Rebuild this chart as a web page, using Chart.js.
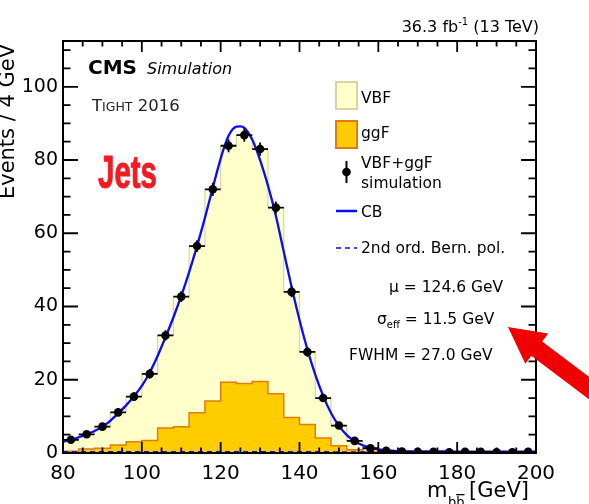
<!DOCTYPE html>
<html><head><meta charset="utf-8">
<script src="https://cdn.jsdelivr.net/npm/chart.js@4.4.1/dist/chart.umd.min.js"></script>
<style>html,body{margin:0;padding:0;background:#fff;overflow:hidden}</style>
</head><body>
<canvas id="c" width="589" height="504"></canvas>
<script>
// ---- data ----
const binEdges   = [80,84,88,92,96,100,104,108,112,116,120,124,128,132,136,140,144,148,152,156,160,164,168,172,176,180,184,188,192,196,200];
const binCenters = [82,86,90,94,98,102,106,110,114,118,122,126,130,134,138,142,146,150,154,158,162,166,170,174,178,182,186,190,194,198];
const totalEvents = [3.6,5.1,7.2,11.1,15.4,21.6,32.1,42.7,56.5,72.0,83.9,86.8,83.0,67.0,44.0,27.6,15.0,7.5,3.3,1.3,0.6,0.4,0.3,0.3,0.2,0.3,0.3,0.2,0.2,0.3];
const totalErrors = [0.6,0.7,0.8,1.0,1.1,1.3,1.4,1.5,1.6,1.8,1.8,1.8,1.8,1.7,1.5,1.3,1.1,0.8,0.6,0.4,0.3,0.3,0.3,0.3,0.3,0.3,0.3,0.3,0.3,0.3];
const ggfEvents = [0.5,1.1,1.3,2.2,3.1,3.4,6.8,7.2,11.0,14.2,19.3,19.0,19.5,16.2,9.7,7.8,4.1,2.0,0.9,0.4,0.1,0.1,0.1,0.1,0.1,0.1,0.1,0.1,0.1,0.1];
const cbMass   = [80,82,84,86,88,90,92,94,96,98,100,102,104,106,108,110,112,114,116,118,120,122,124,125,126,128,130,132,134,136,138,140,142,144,146,148,150,152,154,156,158,160,164,170,180,190,200];
const cbValues = [3.1,3.6,4.3,5.1,6.0,7.2,8.8,10.8,13.0,15.5,18.3,22.0,26.5,31.6,37.0,42.9,49.4,56.5,64.2,72.4,80.4,86.6,89.1,89.2,88.8,85.6,80.0,73.0,64.8,55.0,45.3,36.3,28.3,21.4,15.6,10.9,7.4,4.9,3.2,2.1,1.4,1.0,0.6,0.45,0.4,0.35,0.35];
const bernMass   = [80,140,200];
const bernValues = [0.35,0.3,0.25];
const xTickLabels = [80,100,120,140,160,180,200];
const yTickLabels = [0,20,40,60,80,100];

const FONT = "'DejaVu Sans', 'Liberation Sans', sans-serif";

function histPoints(vals){
  const pts = vals.map((v,i)=>({x:binEdges[i], y:v}));
  pts.push({x:binEdges[binEdges.length-1], y:vals[vals.length-1]});
  return pts;
}

const overlay = {
  id:'overlay',
  afterDatasetsDraw(chart){
    const {ctx, scales:{x,y}} = chart;
    ctx.save();
    ctx.strokeStyle='#000'; ctx.lineWidth=1.8;
    binCenters.forEach((c,i)=>{
      const v=totalEvents[i], e=totalErrors[i];
      const px=x.getPixelForValue(c), py=y.getPixelForValue(v);
      ctx.beginPath();
      ctx.moveTo(x.getPixelForValue(c-2),py); ctx.lineTo(x.getPixelForValue(c+2),py);
      ctx.moveTo(px,y.getPixelForValue(v-e)); ctx.lineTo(px,y.getPixelForValue(v+e));
      ctx.stroke();
    });
    ctx.restore();
  },
  afterDraw(chart){
    const {ctx, chartArea:a, scales:{x,y}} = chart;
    ctx.save();
    // frame
    ctx.strokeStyle='#000'; ctx.lineWidth=2;
    ctx.strokeRect(a.left,a.top,a.right-a.left,a.bottom-a.top);
    ctx.lineWidth=1.8;
    ctx.beginPath();
    for(let v=x.min; v<=x.max; v+=5){
      const px=x.getPixelForValue(v); const L=(v%20===0)?11:5.5;
      ctx.moveTo(px,a.bottom); ctx.lineTo(px,a.bottom-L);
      ctx.moveTo(px,a.top); ctx.lineTo(px,a.top+L);
    }
    for(let v=0; v<=y.max; v+=5){
      const py=y.getPixelForValue(v); const L=(v%20===0)?15:7.5;
      ctx.moveTo(a.left,py); ctx.lineTo(a.left+L,py);
      ctx.moveTo(a.right,py); ctx.lineTo(a.right-L,py);
    }
    ctx.stroke();

    ctx.fillStyle='#000';
    ctx.textBaseline='alphabetic';
    // Axis titles
    ctx.save();
    ctx.translate(13.5,121.5); ctx.rotate(-Math.PI/2);
    ctx.textAlign='center'; ctx.font='21px '+FONT;
    ctx.fillText('Events / 4 GeV',0,0);
    ctx.restore();
    ctx.textAlign='left';
    ctx.font='21px '+FONT;
    ctx.fillText('m',427,497);
    ctx.font='13px '+FONT;
    ctx.fillText('b',448,506);
    const bw=ctx.measureText('b').width;
    ctx.fillText('b',448+bw,506);
    ctx.fillRect(448+bw,494,bw,1.3);
    ctx.font='21px '+FONT; ctx.textAlign='right';
    ctx.fillText('[GeV]',529,497);

    // top right lumi
    ctx.textAlign='left';
    const p1='36.3 fb', p2='-1', p3=' (13 TeV)';
    ctx.font='16px '+FONT; const w1=ctx.measureText(p1).width, w3=ctx.measureText(p3).width;
    ctx.font='10px '+FONT; const w2=ctx.measureText(p2).width;
    let sx=539-(w1+w2+w3);
    ctx.font='16px '+FONT; ctx.fillText(p1,sx,32);
    ctx.font='10px '+FONT; ctx.fillText(p2,sx+w1,25);
    ctx.font='16px '+FONT; ctx.fillText(p3,sx+w1+w2,32);

    // CMS Simulation
    ctx.font='bold 20px '+FONT; ctx.fillText('CMS',88,74);
    ctx.font='italic 16px '+FONT; ctx.fillText('Simulation',147,74);
    // TIGHT 2016 (small caps)
    ctx.fillStyle='#222';
    ctx.font='16.5px '+FONT; ctx.fillText('T',92,111);
    let tx=92+ctx.measureText('T').width;
    ctx.font='12.5px '+FONT; ctx.fillText('IGHT',tx,111);
    tx+=ctx.measureText('IGHT').width;
    ctx.font='16.5px '+FONT; ctx.fillText(' 2016',tx,111);
    ctx.fillStyle='#000';

    // Jets
    ctx.save();
    ctx.font="bold 46px 'Liberation Sans Narrow', 'Liberation Sans', sans-serif";
    const jw=ctx.measureText('Jets').width;
    ctx.translate(98,188); ctx.scale(59/jw,1);
    ctx.fillStyle='#f31b23'; ctx.strokeStyle='#f31b23'; ctx.lineWidth=1.0; ctx.lineJoin='round';
    ctx.fillText('Jets',0,0);
    ctx.strokeText('Jets',0,0);
    ctx.restore();

    // legend
    ctx.lineWidth=2;
    ctx.fillStyle='#ffffcc'; ctx.strokeStyle='#d6d6a2';
    ctx.fillRect(336,82,21,27); ctx.strokeRect(336,82,21,27);
    ctx.fillStyle='#ffcc00'; ctx.strokeStyle='#e07b12';
    ctx.fillRect(336,121,21,27); ctx.strokeRect(336,121,21,27);
    ctx.fillStyle='#000'; ctx.strokeStyle='#000';
    ctx.beginPath(); ctx.moveTo(346.5,161); ctx.lineTo(346.5,183); ctx.stroke();
    ctx.beginPath(); ctx.arc(346.5,172,4.3,0,Math.PI*2); ctx.fill();
    ctx.strokeStyle='#0a0aff'; ctx.lineWidth=2.5;
    ctx.beginPath(); ctx.moveTo(336,211); ctx.lineTo(357,211); ctx.stroke();
    ctx.lineWidth=1.6; ctx.setLineDash([5,4]);
    ctx.beginPath(); ctx.moveTo(336,248); ctx.lineTo(357,248); ctx.stroke();
    ctx.setLineDash([]);
    ctx.fillStyle='#000';
    ctx.font='15.5px '+FONT;
    ctx.fillText('VBF',361,102.5);
    ctx.fillText('ggF',361,138);
    ctx.fillText('VBF+ggF',361,168);
    ctx.fillText('simulation',361,188);
    ctx.fillText('CB',361,216.5);
    ctx.fillText('2nd ord. Bern. pol.',361,253);
    ctx.fillText('\u03bc = 124.6 GeV',389,291.5);
    ctx.fillText('\u03c3',377,324);
    let sw=377+ctx.measureText('\u03c3').width;
    ctx.font='10px '+FONT; ctx.fillText('eff',sw,328);
    sw+=ctx.measureText('eff').width;
    ctx.font='15.5px '+FONT; ctx.fillText(' = 11.5 GeV',sw,324);
    ctx.fillText('FWHM = 27.0 GeV',349,360);

    // red arrow
    const T={x:508,y:327}, ang=37*Math.PI/180;
    const d={x:Math.cos(ang),y:Math.sin(ang)}, n={x:-Math.sin(ang),y:Math.cos(ang)};
    const hl=36, hw=19, sw2=9, len=170;
    const B={x:T.x+hl*d.x,y:T.y+hl*d.y}, E={x:T.x+len*d.x,y:T.y+len*d.y};
    ctx.fillStyle='#f00000';
    ctx.beginPath();
    ctx.moveTo(T.x,T.y);
    ctx.lineTo(B.x+hw*n.x,B.y+hw*n.y);
    ctx.lineTo(B.x+sw2*n.x,B.y+sw2*n.y);
    ctx.lineTo(E.x+sw2*n.x,E.y+sw2*n.y);
    ctx.lineTo(E.x-sw2*n.x,E.y-sw2*n.y);
    ctx.lineTo(B.x-sw2*n.x,B.y-sw2*n.y);
    ctx.lineTo(B.x-hw*n.x,B.y-hw*n.y);
    ctx.closePath(); ctx.fill();
    ctx.restore();
  }
};

new Chart(document.getElementById('c'), {
  type:'line',
  data:{
    datasets:[
      {label:'VBF+ggF simulation', data:binCenters.map((c,i)=>({x:c,y:totalEvents[i]})), showLine:false,
       pointRadius:4.3, pointBackgroundColor:'#000', pointBorderWidth:0, order:0},
      {label:'CB', data:cbMass.map((m,i)=>({x:m,y:cbValues[i]})), borderColor:'#0a0aff', borderWidth:2.3,
       pointRadius:0, cubicInterpolationMode:'monotone', fill:false, order:1},
      {label:'2nd ord. Bern. pol.', data:bernMass.map((m,i)=>({x:m,y:bernValues[i]})), borderColor:'#0a0aff', borderWidth:1.6,
       borderDash:[5,4], pointRadius:0, fill:false, order:2},
      {label:'ggF', data:histPoints(ggfEvents), stepped:'before', borderColor:'#e07b12', borderWidth:1.5,
       backgroundColor:'#ffcc00', fill:'origin', pointRadius:0, order:3},
      {label:'VBF', data:histPoints(totalEvents), stepped:'before', borderColor:'#d6d6a2', borderWidth:1.2,
       backgroundColor:'#ffffcc', fill:'origin', pointRadius:0, order:4}
    ]
  },
  options:{
    responsive:false, animation:false, devicePixelRatio:1,
    layout:{padding:{left:0,right:53,top:41,bottom:0}},
    plugins:{legend:{display:false}, tooltip:{enabled:false}},
    scales:{
      x:{type:'linear', min:80, max:200,
         grid:{display:false, drawTicks:false}, border:{display:false},
         ticks:{color:'#000', font:{family:FONT,size:20}, padding:9, maxRotation:0, autoSkip:false},
         afterBuildTicks:s=>{s.ticks=xTickLabels.map(v=>({value:v}));},
         afterFit:s=>{s.height=51;}},
      y:{type:'linear', min:0, max:112.5,
         grid:{display:false, drawTicks:false}, border:{display:false},
         ticks:{color:'#000', font:{family:FONT,size:19}, padding:5, autoSkip:false},
         afterBuildTicks:s=>{s.ticks=yTickLabels.map(v=>({value:v}));},
         afterFit:s=>{s.width=63;}}
    }
  },
  plugins:[overlay]
});
</script>
</body></html>
